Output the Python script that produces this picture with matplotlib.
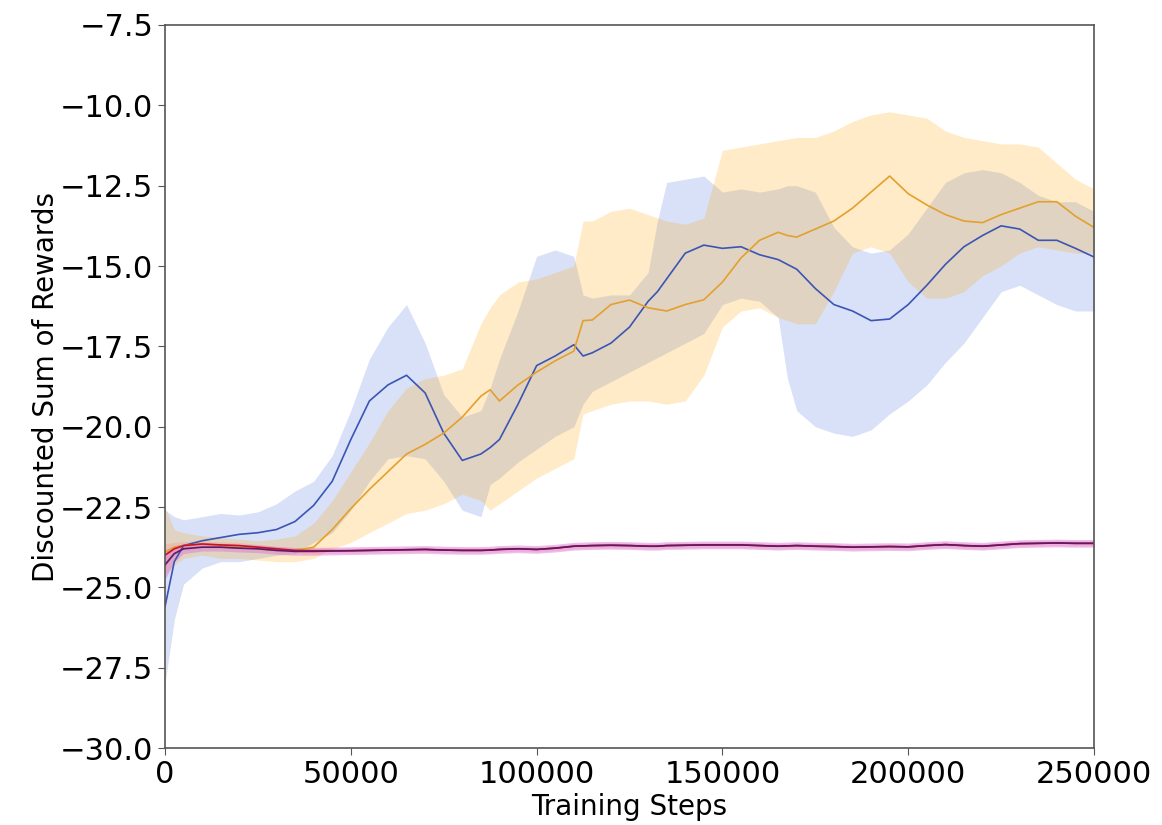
import numpy as np
import matplotlib
matplotlib.use("Agg")
import matplotlib.pyplot as plt

# Training steps at which the evaluation curves are sampled
steps = [0, 2500, 5000, 10000, 15000, 20000, 25000, 30000, 35000, 40000,
         45000, 50000, 55000, 60000, 65000, 70000, 75000, 80000, 85000, 87500,
         90000, 95000, 100000, 105000, 110000, 112500, 115000, 120000, 125000, 130000,
         132500, 135000, 140000, 145000, 150000, 155000, 160000, 165000, 167500, 170000,
         175000, 180000, 185000, 190000, 195000, 200000, 205000, 210000, 215000, 220000,
         225000, 230000, 235000, 240000, 245000, 250000]

# Blue agent: mean and band
blue_mean = [-25.6, -24.2, -23.7, -23.55, -23.45, -23.35, -23.3, -23.2, -22.95, -22.45,
             -21.7, -20.4, -19.2, -18.7, -18.4, -18.95, -20.2, -21.05, -20.85, -20.65,
             -20.4, -19.3, -18.1, -17.8, -17.45, -17.8, -17.7, -17.4, -16.9, -16.1,
             -15.8, -15.4, -14.6, -14.35, -14.45, -14.4, -14.65, -14.8, -14.95, -15.1,
             -15.7, -16.2, -16.4, -16.7, -16.65, -16.2, -15.6, -14.95, -14.4, -14.05,
             -13.75, -13.85, -14.2, -14.2, -14.45, -14.72]
blue_upper = [-22.6, -22.8, -22.9, -22.8, -22.7, -22.75, -22.65, -22.4, -22.0, -21.7,
              -20.9, -19.5, -17.9, -16.9, -16.2, -17.4, -19.0, -19.7, -19.5, -18.8,
              -17.9, -16.4, -14.7, -14.5, -14.7, -15.9, -16.0, -15.9, -15.9, -15.2,
              -13.6, -12.4, -12.3, -12.2, -12.7, -12.6, -12.7, -12.6, -12.5, -12.5,
              -12.7, -13.8, -14.4, -14.6, -14.5, -14.0, -13.2, -12.4, -12.1, -12.0,
              -12.1, -12.4, -12.8, -13.0, -13.0, -13.3]
blue_lower = [-28.0, -26.0, -24.9, -24.4, -24.2, -24.2, -24.1, -24.0, -23.95, -23.6,
              -23.3, -22.6, -21.7, -21.0, -20.9, -21.0, -21.7, -22.6, -22.8, -21.8,
              -21.6, -21.1, -20.7, -20.3, -20.0, -19.3, -18.9, -18.6, -18.3, -18.0,
              -17.85, -17.7, -17.4, -17.1, -16.2, -16.0, -16.1, -16.6, -18.5, -19.5,
              -20.0, -20.2, -20.3, -20.1, -19.6, -19.2, -18.7, -18.0, -17.4, -16.6,
              -15.8, -15.6, -15.9, -16.2, -16.4, -16.4]

# Orange agent: mean and band
orange_mean = [-23.9, -23.75, -23.7, -23.65, -23.7, -23.75, -23.8, -23.85, -23.85, -23.75,
               -23.2, -22.55, -21.95, -21.4, -20.85, -20.55, -20.2, -19.7, -19.05, -18.85,
               -19.2, -18.7, -18.3, -17.95, -17.65, -16.7, -16.68, -16.2, -16.06, -16.3,
               -16.35, -16.4, -16.2, -16.05, -15.5, -14.75, -14.2, -13.95, -14.05, -14.1,
               -13.85, -13.6, -13.2, -12.7, -12.2, -12.75, -13.1, -13.4, -13.6, -13.65,
               -13.4, -13.2, -13.0, -13.0, -13.45, -13.8]
orange_upper = [-22.5, -23.2, -23.3, -23.4, -23.45, -23.5, -23.55, -23.5, -23.4, -23.0,
                -22.3, -21.4, -20.5, -19.5, -18.8, -18.5, -18.4, -18.2, -16.8, -16.3,
                -15.9, -15.5, -15.4, -15.2, -15.0, -13.6, -13.6, -13.3, -13.2, -13.4,
                -13.5, -13.6, -13.7, -13.5, -11.4, -11.3, -11.2, -11.1, -11.05, -11.0,
                -11.0, -10.8, -10.5, -10.3, -10.2, -10.3, -10.4, -10.8, -11.0, -11.1,
                -11.2, -11.2, -11.3, -11.8, -12.3, -12.6]
orange_lower = [-24.6, -24.3, -24.1, -24.0, -24.1, -24.1, -24.15, -24.2, -24.2, -24.1,
                -23.8, -23.6, -23.3, -23.0, -22.7, -22.6, -22.4, -22.1, -22.3, -22.6,
                -22.4, -22.0, -21.6, -21.3, -21.0, -19.6, -19.5, -19.3, -19.2, -19.2,
                -19.25, -19.3, -19.2, -18.4, -16.9, -16.4, -16.3, -16.6, -16.7, -16.8,
                -16.8, -15.8, -14.6, -14.4, -14.6, -15.5, -16.0, -16.0, -15.8, -15.3,
                -15.0, -14.6, -14.4, -14.5, -14.6, -14.6]

# Red agent: mean and half-width of band
red_mean = [-24.0, -23.8, -23.7, -23.65, -23.68, -23.7, -23.75, -23.8, -23.85, -23.86,
            -23.86, -23.86, -23.85, -23.84, -23.83, -23.82, -23.84, -23.85, -23.85, -23.84,
            -23.82, -23.8, -23.82, -23.78, -23.72, -23.71, -23.7, -23.69, -23.7, -23.72,
            -23.72, -23.7, -23.69, -23.68, -23.68, -23.68, -23.7, -23.72, -23.71, -23.7,
            -23.72, -23.73, -23.75, -23.74, -23.73, -23.74, -23.7, -23.67, -23.7, -23.72,
            -23.68, -23.64, -23.63, -23.62, -23.63, -23.63]
red_spread = [0.35, 0.2, 0.12, 0.1, 0.1, 0.1, 0.08, 0.08, 0.08, 0.08,
              0.08, 0.08, 0.08, 0.08, 0.08, 0.08, 0.08, 0.08, 0.08, 0.08,
              0.08, 0.08, 0.08, 0.08, 0.08, 0.08, 0.08, 0.08, 0.08, 0.08,
              0.08, 0.08, 0.08, 0.08, 0.08, 0.08, 0.08, 0.08, 0.08, 0.08,
              0.08, 0.08, 0.08, 0.08, 0.08, 0.08, 0.08, 0.08, 0.08, 0.08,
              0.08, 0.08, 0.08, 0.08, 0.08, 0.08]

# Purple agent: mean and half-width of band
purple_mean = [-24.3, -23.95, -23.8, -23.75, -23.75, -23.78, -23.8, -23.85, -23.88, -23.88,
               -23.87, -23.86, -23.85, -23.84, -23.83, -23.82, -23.84, -23.85, -23.85, -23.84,
               -23.82, -23.8, -23.82, -23.78, -23.72, -23.71, -23.7, -23.69, -23.7, -23.72,
               -23.72, -23.7, -23.69, -23.68, -23.68, -23.68, -23.7, -23.72, -23.71, -23.7,
               -23.72, -23.73, -23.75, -23.74, -23.73, -23.74, -23.7, -23.67, -23.7, -23.72,
               -23.68, -23.64, -23.63, -23.62, -23.63, -23.63]
purple_spread = [0.45, 0.25, 0.15, 0.12, 0.12, 0.12, 0.12, 0.12, 0.12, 0.12,
                 0.12, 0.12, 0.12, 0.12, 0.12, 0.12, 0.12, 0.12, 0.12, 0.12,
                 0.12, 0.12, 0.12, 0.12, 0.12, 0.12, 0.12, 0.12, 0.12, 0.12,
                 0.12, 0.12, 0.12, 0.12, 0.12, 0.12, 0.12, 0.12, 0.12, 0.12,
                 0.12, 0.12, 0.12, 0.12, 0.12, 0.12, 0.12, 0.12, 0.12, 0.12,
                 0.12, 0.12, 0.12, 0.12, 0.12, 0.12]

x_ticks = [0, 50000, 100000, 150000, 200000, 250000]
y_ticks = [-30.0, -27.5, -25.0, -22.5, -20.0, -17.5, -15.0, -12.5, -10.0, -7.5]

x = np.array(steps)

fig = plt.figure(figsize=(11.62, 8.25), dpi=100)
ax = fig.add_axes([0.142, 0.0933, 0.7995, 0.8764])

ax.fill_between(x, blue_lower, blue_upper, color="#4169e1", alpha=0.2, linewidth=0)
ax.fill_between(x, orange_lower, orange_upper, color="#ffa500", alpha=0.22, linewidth=0)
rm = np.array(red_mean); rs = np.array(red_spread)
pm = np.array(purple_mean); ps = np.array(purple_spread)
ax.fill_between(x, rm - rs, rm + rs, color="#ff6f6f", alpha=0.2, linewidth=0)
ax.fill_between(x, pm - ps, pm + ps, color="#da70d6", alpha=0.45, linewidth=0)

ax.plot(x, blue_mean, color="#3a55b4", linewidth=1.2)
ax.plot(x, orange_mean, color="#e3a02c", linewidth=1.2)
ax.plot(x, red_mean, color="#c8102e", linewidth=1.2)
ax.plot(x, purple_mean, color="#5e1a63", linewidth=1.2)

ax.set_xlim(0, 250000)
ax.set_ylim(-30, -7.5)
ax.set_xticks(x_ticks)
ax.set_yticks(y_ticks)
ax.ticklabel_format(axis="x", style="plain", useOffset=False)
ax.tick_params(labelsize=22, length=5, color="#555555")
for s in ax.spines.values():
    s.set_color("#555555")
    s.set_linewidth(1.2)

ax.set_xlabel("Training Steps", fontsize=20, labelpad=3)
ax.set_ylabel("Discounted Sum of Rewards", fontsize=20, labelpad=0)

fig.savefig("out.png", dpi=100)
